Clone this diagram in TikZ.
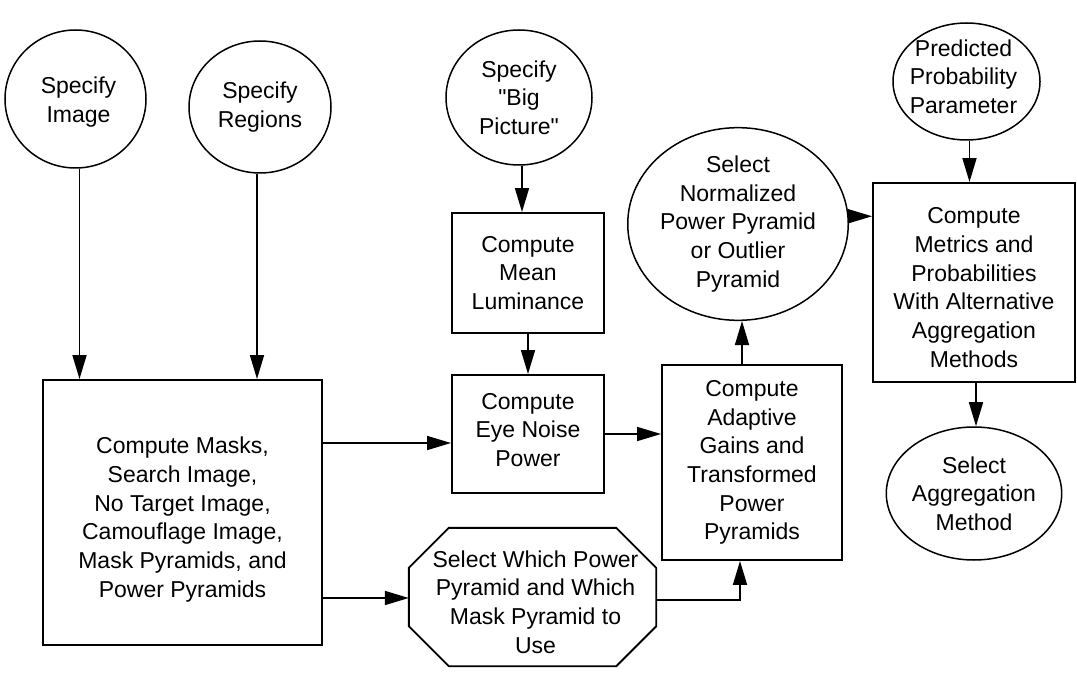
\documentclass[tikz,border=0pt]{standalone}
\usepackage{fontspec}
\setmainfont{Liberation Sans}
\usetikzlibrary{arrows.meta,shapes.geometric}

\tikzset{
  txt/.style={font=\fontsize{23}{28.7}\selectfont, align=center, inner sep=0pt},
  procbox/.style={txt, draw, line width=1.9pt, rectangle},
  ovalnode/.style={txt, draw, line width=1.5pt, ellipse},
  arr/.style={line width=1.7pt, -{Triangle[length=24pt,width=14pt]}},
  octline/.style={draw, line width=1.9pt, line join=miter}
}

\begin{document}
\begin{tikzpicture}[x=1pt, y=-1pt]
\useasboundingbox (0,0) rectangle (1077,676);

% inputs
\node[ovalnode, minimum width=141, minimum height=138] (si) at (75.5,99) {};
\node[txt] (sit) at ([xshift=3,yshift=-3]si.center) {Specify\\Image};
\node[ovalnode, minimum width=142, minimum height=132] (sr) at (260,107) {Specify\\Regions};
\node[ovalnode, minimum width=146, minimum height=135] (bp) at (519,97.5)
  {Specify\\\textquotedbl Big\\Picture\textquotedbl};
\node[ovalnode, minimum width=147, minimum height=117] (pp) at (966.5,81.5) {};
\node[txt] (ppt) at ([xshift=-3,yshift=5]pp.center) {Predicted\\Probability\\Parameter};

% processing steps
\node[procbox, minimum width=279, minimum height=265] (big) at (182.5,512.5) {};
\node[txt] (bigt) at ([yshift=-7]big.center)
  {Compute Masks,\\Search Image,\\No Target Image,\\Camouflage Image,\\Mask Pyramids, and\\Power Pyramids};
\node[procbox, minimum width=152, minimum height=120] (ml) at (528,273) {Compute\\Mean\\Luminance};
\node[procbox, minimum width=152, minimum height=118] (ey) at (528,434) {};
\node[txt] (eyt) at ([yshift=4]ey.center) {Compute\\Eye Noise\\Power};
\node[procbox, minimum width=180, minimum height=195] (ad) at (752,462.5)
  {Compute\\Adaptive\\Gains and\\Transformed\\Power\\Pyramids};
\node[procbox, minimum width=202, minimum height=199] (cm) at (974,282.5) {};
\node[txt] (cmt) at ([yshift=-5]cm.center)
  {Compute\\Metrics and\\Probabilities\\With Alternative\\Aggregation\\Methods};

% selections
\node[ovalnode, minimum width=184, minimum height=184] (sn) at (738,224)
  {Select\\Normalized\\Power Pyramid\\or Outlier\\Pyramid};
\node[ovalnode, minimum width=146, minimum height=133] (sa) at (974,493.5)
  {Select\\Aggregation\\Method};

% octagonal decision step
\node[minimum width=247, minimum height=138, inner sep=0pt] (oc) at (532.5,597) {};
\node[txt] (oct) at ([xshift=3,yshift=-5]oc.center)
  {Select Which Power\\Pyramid and Which\\Mask Pyramid to\\Use};
\draw[octline] ([xshift=40]oc.north west) -- ([xshift=-40]oc.north east)
  -- ([yshift=-40]oc.north east) -- ([yshift=40]oc.south east)
  -- ([xshift=-40]oc.south east) -- ([xshift=40]oc.south west)
  -- ([yshift=40]oc.south west) -- ([yshift=-40]oc.north west) -- cycle;

% connectors
\draw[arr] ([xshift=4]si.south) -- ([xshift=4]si.south |- big.north);
\draw[arr] ([xshift=-3]sr.south) -- ([xshift=-3]sr.south |- big.north);
\draw[arr] ([xshift=3]bp.south) -- ([xshift=3]bp.south |- ml.north);
\draw[arr] (ml.south) -- (ey.north);
\draw[arr] ([yshift=-9]big.east |- ey.west) -- ([yshift=-9]ey.west);
\draw[arr] ([yshift=-1]big.east |- oc.west) -- ([yshift=-1]oc.west);
\draw[arr] (ey.east) -- (ey.east -| ad.west);
\draw[arr] ([yshift=-3]oc.east) -| ([xshift=-12]ad.south);
\draw[arr] ([xshift=-10]ad.north) -- ([xshift=-10]ad.north |- sn.south);
\draw[arr] (sn.4) -- (sn.4 -| cm.west);
\draw[arr] ([xshift=3]pp.south) -- ([xshift=3]pp.south |- cm.north);
\draw[arr] ([xshift=2]cm.south) -- ([xshift=2]cm.south |- sa.north);
\end{tikzpicture}
\end{document}
